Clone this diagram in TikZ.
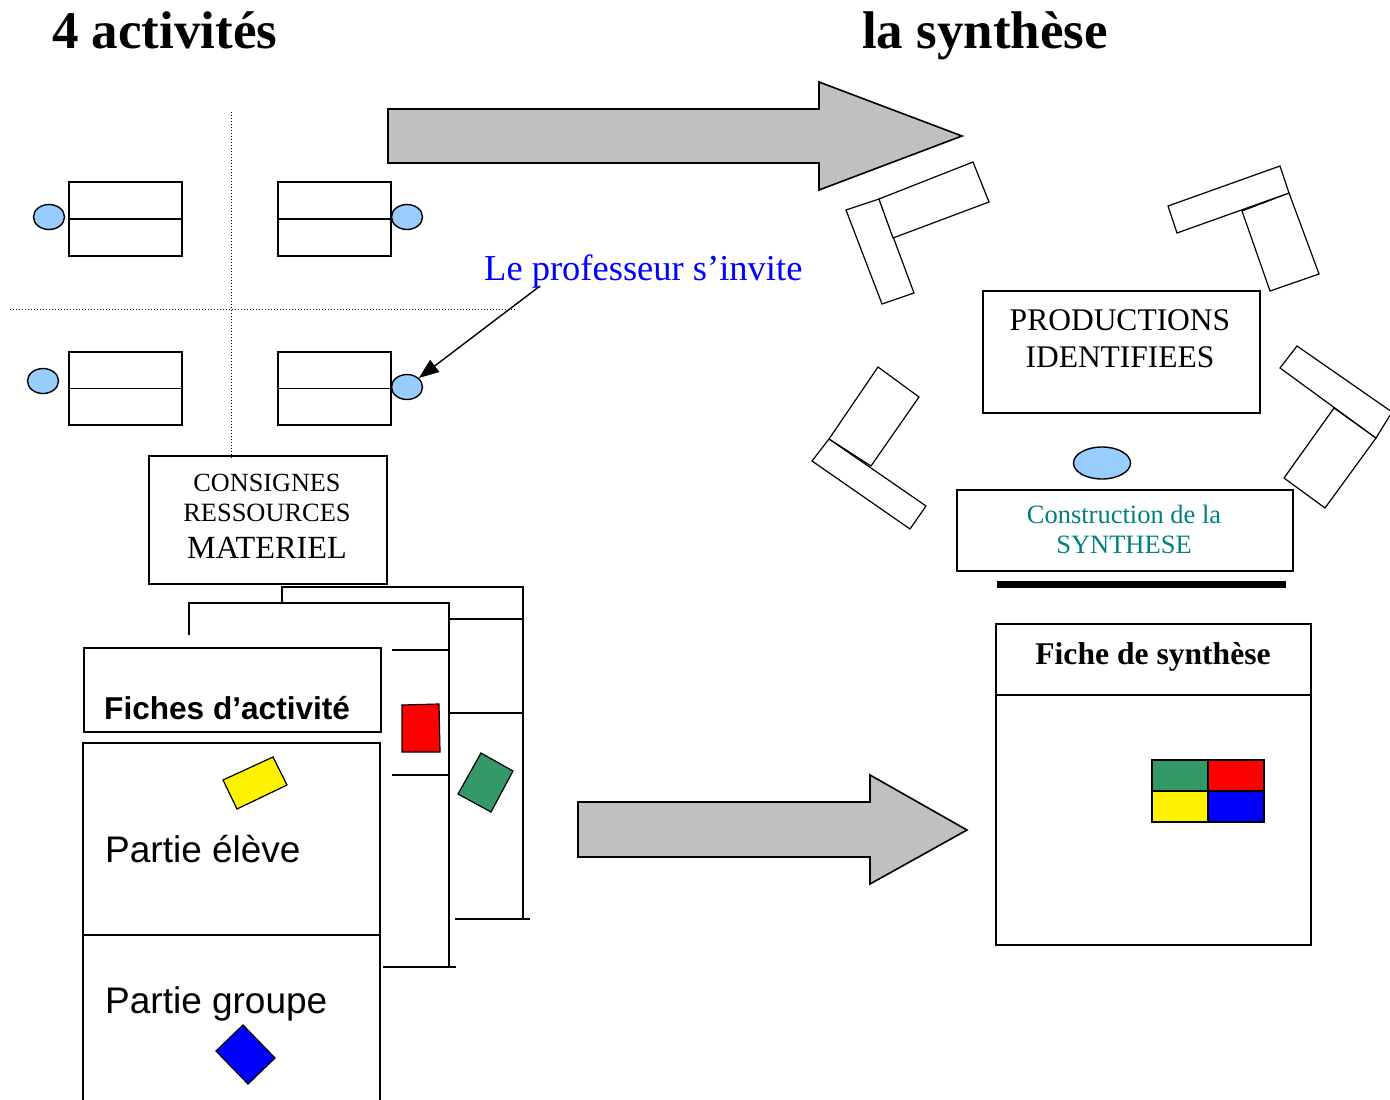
\documentclass[tikz,border=0pt]{standalone}
\usepackage{fontspec}
\setmainfont{Liberation Serif}
\setsansfont{Liberation Sans}
\usetikzlibrary{arrows.meta,shapes.geometric}
\definecolor{lblue}{HTML}{99CCFF}
\definecolor{agray}{HTML}{C0C0C0}
\definecolor{sgreen}{HTML}{339966}
\definecolor{tealtxt}{HTML}{008080}
\begin{document}
\begin{tikzpicture}[x=1pt,y=-1pt,line join=miter,
  ln/.style={line width=1.6pt},
  boxnode/.style={draw,line width=1.6pt,rectangle,inner sep=0pt,anchor=north west},
  desk/.style={boxnode,minimum width=113pt,minimum height=74pt},
  pupil/.style={draw,line width=1.4pt,fill=lblue,ellipse,inner sep=0pt,minimum width=31pt,minimum height=25pt},
  txt/.style={inner sep=0pt,anchor=base west},
  ctxt/.style={inner sep=0pt,anchor=base},
  bigarrow/.style={draw,line width=1.6pt,fill=agray},
  dotline/.style={line width=1pt,dotted},
  piece/.style={draw,line width=1.2pt}
]
\useasboundingbox (0,0) rectangle (1390,1100);

% titles
\node[txt,font=\fontsize{53}{60}\selectfont\bfseries] (t1) at (52,48) {4 activités};
\node[txt,font=\fontsize{53}{60}\selectfont\bfseries] (t2) at (862,48) {la synthèse};

% top big arrow
\draw[bigarrow] (388,109) -- (819,109) -- (819,82) -- (962,136) -- (819,190) -- (819,163) -- (388,163) -- cycle;

% dotted separators
\coordinate (vtop) at (231,112);
\coordinate (vbot) at (231,458);
\coordinate (hl) at (10,309);
\coordinate (hr) at (515,309);
\draw[dotline] (vtop) -- (vbot);
\draw[dotline] (hl) -- (hr);

% desks
\node[desk] (d1) at (68,181) {};
\node[desk] (d2) at (277,181) {};
\node[desk,minimum height=73pt] (d3) at (68,351) {};
\node[desk,minimum height=73pt] (d4) at (277,351) {};
\foreach \d in {d1,d2,d3,d4} \draw[ln] (\d.west) -- (\d.east);
\node[pupil] (p1) at (49,217) {};
\node[pupil] (p2) at (407,217) {};
\node[pupil] (p3) at (43,381) {};
\node[pupil] (p4) at (407,387) {};

% professor
\node[txt,text=blue,font=\fontsize{36.5}{40}\selectfont] (prof) at (484,280) {Le professeur s’invite};
\coordinate (pstart) at (540,286);
\draw[line width=1.4pt,-{Triangle[length=20pt,width=15pt]}] (pstart) -- (p4);

% consignes box
\node[boxnode,minimum width=238pt,minimum height=128pt] (cons) at (148,455) {};
\node[ctxt,font=\fontsize{26.2}{28}\selectfont] (c1) at (267,491) {CONSIGNES};
\node[ctxt,font=\fontsize{26.4}{28}\selectfont] (c2) at (267,521) {RESSOURCES};
\node[ctxt,font=\fontsize{32.3}{34}\selectfont] (c3) at (267,558) {MATERIEL};

% back sheet (third)
\draw[ln] (282,603) -- (282,587) -- (523,587) -- (523,919);
\draw[ln] (455,919) -- (530,919);
\draw[ln] (449,619) -- (523,619);
\draw[ln] (449,713) -- (523,713);
% second sheet
\draw[ln] (189,635) -- (189,603) -- (449,603) -- (449,967);
\draw[ln] (383,967) -- (456,967);
\draw[ln] (392,650) -- (449,650);
\draw[ln] (392,775) -- (449,775);
% front sheet
\node[boxnode,minimum width=297pt,minimum height=84pt] (fhead) at (83,647) {};
\node[txt,font=\sffamily\bfseries\fontsize{31.6}{34}\selectfont] (ftitle) at (104,719) {Fiches d’activité};
\draw[ln] (83,1102) -- (83,743) -- (380,743) -- (380,1102);
\draw[ln] (83,935) -- (380,935);
\node[txt,font=\sffamily\fontsize{37}{40}\selectfont] (pel) at (105,862) {Partie élève};
\node[txt,font=\sffamily\fontsize{37}{40}\selectfont] (pgr) at (105,1013) {Partie groupe};

% coloured pieces
\draw[piece,fill=red] (402,705) -- (439,704) -- (440,752) -- (402,752) -- cycle;
\draw[piece,fill=sgreen] (481,753) -- (513,771) -- (491,812) -- (458,794) -- cycle;
\draw[piece,fill=yellow] (223,780) -- (273,757) -- (287,785) -- (237,809) -- cycle;
\draw[piece,fill=blue] (243,1025) -- (275,1058) -- (248,1084) -- (216,1051) -- cycle;

% bottom big arrow
\draw[bigarrow] (578,802) -- (870,802) -- (870,775) -- (967,830) -- (870,884) -- (870,857) -- (578,857) -- cycle;

% right side tables
\draw[piece,fill=white] (846,210) -- (879,199) -- (914,293) -- (882,304) -- cycle;
\draw[piece,fill=white] (879,199) -- (973,162) -- (989,202) -- (893,238) -- cycle;
\draw[piece,fill=white] (1242,211) -- (1289,193) -- (1319,274) -- (1270,291) -- cycle;
\draw[piece,fill=white] (1168,206) -- (1280,166) -- (1289,193) -- (1177,233) -- cycle;
\draw[piece,fill=white] (829,439) -- (878,367) -- (919,397) -- (871,466) -- cycle;
\draw[piece,fill=white] (812,461) -- (829,439) -- (926,506) -- (910,529) -- cycle;
\draw[piece,fill=white] (1334,408) -- (1376,438) -- (1325,508) -- (1284,478) -- cycle;
\draw[piece,fill=white] (1280,368) -- (1297,346) -- (1392,412) -- (1376,438) -- cycle;

% productions box
\node[boxnode,minimum width=277pt,minimum height=122pt] (prod) at (982,290) {};
\node[ctxt,font=\fontsize{31.5}{34}\selectfont] (pr1) at (1120,330) {PRODUCTIONS};
\node[ctxt,font=\fontsize{31.5}{34}\selectfont] (pr2) at (1120,367) {IDENTIFIEES};

% teacher + construction
\node[pupil,minimum width=57pt,minimum height=32pt] (teach) at (1102,463) {};
\node[boxnode,minimum width=336pt,minimum height=81pt] (constr) at (956,489) {};
\node[ctxt,text=tealtxt,font=\fontsize{26.5}{30}\selectfont] (cs1) at (1124,523) {Construction de la};
\node[ctxt,text=tealtxt,font=\fontsize{26.5}{30}\selectfont] (cs2) at (1124,553) {SYNTHESE};
\fill[black] (997,581) rectangle (1286,588);

% fiche de synthese
\node[boxnode,minimum width=315pt,minimum height=321pt] (fs) at (995,623) {};
\draw[ln] (995,695) -- (1310,695);
\node[ctxt,font=\bfseries\fontsize{31.6}{34}\selectfont] (fst) at (1153,664) {Fiche de synthèse};
\draw[piece,fill=sgreen] (1152,760) rectangle (1208,791);
\draw[piece,fill=red] (1208,760) rectangle (1264,791);
\draw[piece,fill=yellow] (1152,791) rectangle (1208,822);
\draw[piece,fill=blue] (1208,791) rectangle (1264,822);
\end{tikzpicture}
\end{document}
